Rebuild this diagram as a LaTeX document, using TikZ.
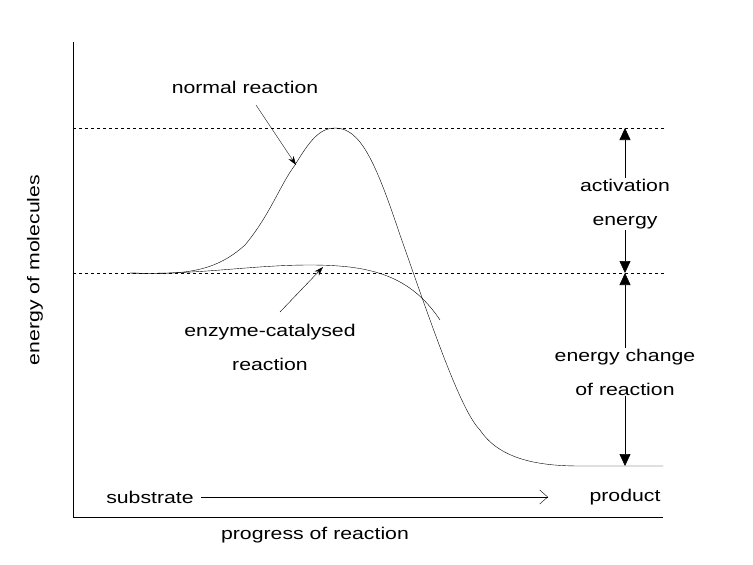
\documentclass[tikz,border=0pt]{standalone}
\usepackage{fontspec}
\setmainfont{Liberation Sans}
\usetikzlibrary{arrows.meta}
\begin{document}
\begin{tikzpicture}[x=1pt,y=-1pt,
  lbl/.style={font=\fontsize{17}{34}\selectfont,align=center,inner sep=1pt,xscale=1.25},
  ptr/.style={-{Stealth[length=9pt,width=6pt]},thin},
  vptr/.style={-{Straight Barb[length=8pt,width=14pt]},thin},
  tri/.style={-{Triangle[length=12pt,width=11pt]},semithick},
  curve/.style={thin}]
\useasboundingbox (0,0) rectangle (753,565);
% axes
\draw[thin] (73,42) -- (73,517) -- (663,517);
% dashed lines
\draw[dashed] (73,128) -- (665,128);
\draw[dashed] (73,273) -- (665,273);
% normal reaction curve
\draw[curve] (130,273) .. controls (185,275) and (215,272) .. (245,245)
  .. controls (270,215) and (280,185) .. (295,165)
  .. controls (310,140) and (320,128) .. (335,128)
  .. controls (360,128) and (375,160) .. (400,235)
  .. controls (430,320) and (460,410) .. (480,430)
  .. controls (500,460) and (540,466) .. (580,466) -- (663,466);
% enzyme curve
\draw[curve] (130,273) .. controls (200,275) and (250,265) .. (310,265)
  .. controls (370,265) and (410,275) .. (440,320);
% labels
\node[lbl] (nr) at (245,87) {normal reaction};
\coordinate (nrs) at (256,105);
\coordinate (nrt) at (296,165);
\draw[ptr] (nrs) -- (nrt);
\node[lbl] (ec) at (270,347) {enzyme-catalysed\\reaction};
\coordinate (ecs) at (280,312);
\coordinate (ect) at (323,267);
\draw[ptr] (ecs) -- (ect);
\node[lbl] (ae) at (625,204) {activation\\energy};
\node[lbl] (ecr) at (625,372) {energy change\\of reaction};
\coordinate (a1) at (625,128);
\coordinate (a2) at (625,273);
\coordinate (a3) at (625,466);
\draw[tri] (ae.north) -- (a1);
\draw[tri] (ae.south) -- (a2);
\draw[tri] (ecr.north) -- (a2);
\draw[tri] (ecr.south) -- (a3);
\node[lbl] (sub) at (150,497) {substrate};
\node[lbl] (prod) at (625,497) {product};
\coordinate (pe) at (548,497);
\draw[vptr] (sub.east) ++(6,0) -- (pe);
\node[lbl] (px) at (315,535) {progress of reaction};
\node[font=\fontsize{17}{20}\selectfont,inner sep=1pt,rotate=90] (py) at (35,270) {\scalebox{1.25}[1]{energy of molecules}};
\end{tikzpicture}
\end{document}
